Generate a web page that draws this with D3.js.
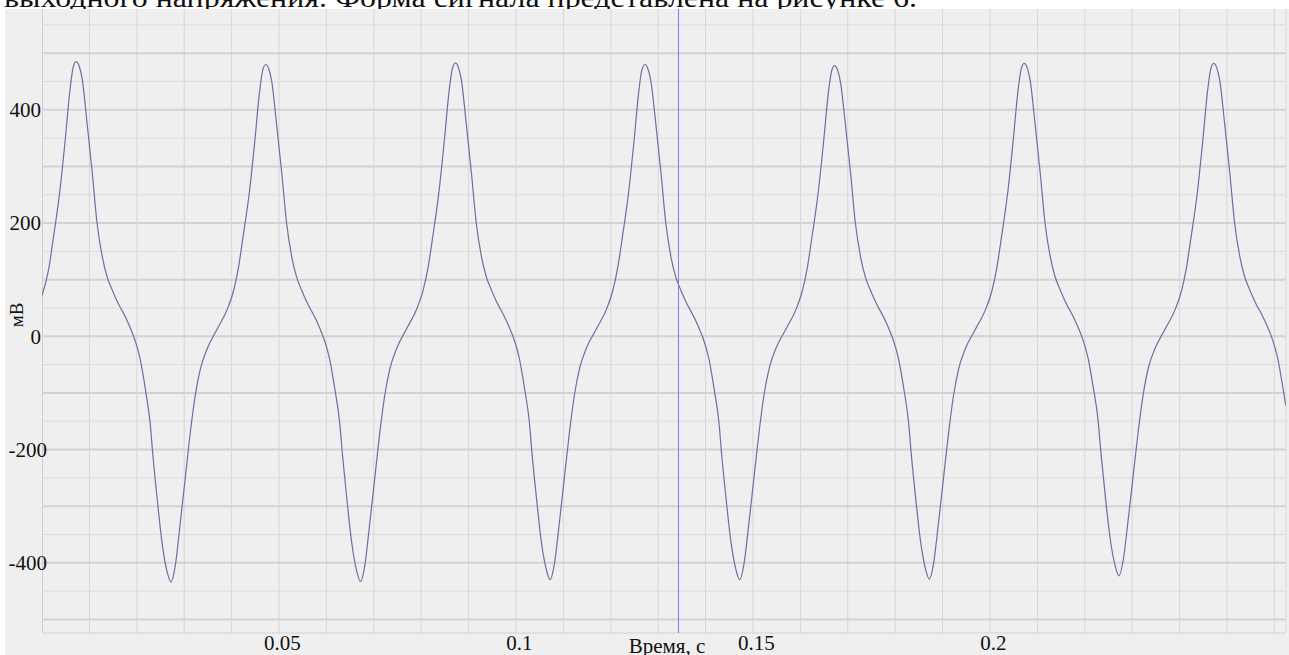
<!DOCTYPE html>
<html><head><meta charset="utf-8">
<script src="https://cdn.jsdelivr.net/npm/d3@7"></script>
<style>html,body{margin:0;padding:0;background:#fff;overflow:hidden}
svg text{font-family:"Liberation Serif","Times New Roman",serif;}</style>
</head><body>
<script>
// ---- data ----
const caption = "выходного напряжения. Форма сигнала представлена на рисунке 6.";
const xTitle = "Время, с";
const yTitle = "мВ";
const xTickValues = [0.05, 0.1, 0.15, 0.2];
const yTickValues = [-400, -200, 0, 200, 400];
const cursorTime = 0.1342; // s

// time in ms
const timeMs = [
  0, 1.4, 2.35, 3.8, 4.9, 5.9, 6.55, 7.2, 7.85, 8.47, 9.5, 10.6, 11.6, 12.7, 13.7, 14.8, 15.85, 18.0, 20.1, 20.7, 21.8, 22.8, 23.4, 24.3, 25.3, 26.4, 27.2, 28.1, 29.1, 30.2, 31.3, 32.3, 33.4, 34.8, 36.9, 39.1,
  40.4, 41.4, 42.35, 43.8, 44.9, 45.9, 46.55, 47.2, 47.85, 48.47, 49.5, 50.6, 51.6, 52.7, 53.7, 54.8, 55.85, 58.0, 60.1, 60.7, 61.8, 62.8, 63.4, 64.3, 65.3, 66.4, 67.2, 68.1, 69.1, 70.2, 71.3, 72.3, 73.4, 74.8, 76.9, 79.1,
  80.4, 81.4, 82.35, 83.8, 84.9, 85.9, 86.55, 87.2, 87.85, 88.47, 89.5, 90.6, 91.6, 92.7, 93.7, 94.8, 95.85, 98.0, 100.1, 100.7, 101.8, 102.8, 103.4, 104.3, 105.3, 106.4, 107.2, 108.1, 109.1, 110.2, 111.3, 112.3, 113.4, 114.8, 116.9, 119.1,
  120.4, 121.4, 122.35, 123.8, 124.9, 125.9, 126.55, 127.2, 127.85, 128.47, 129.5, 130.6, 131.6, 132.7, 133.7, 134.8, 135.85, 138.0, 140.1, 140.7, 141.8, 142.8, 143.4, 144.3, 145.3, 146.4, 147.2, 148.1, 149.1, 150.2, 151.3, 152.3, 153.4, 154.8, 156.9, 159.1,
  160.4, 161.4, 162.35, 163.8, 164.9, 165.9, 166.55, 167.2, 167.85, 168.47, 169.5, 170.6, 171.6, 172.7, 173.7, 174.8, 175.85, 178.0, 180.1, 180.7, 181.8, 182.8, 183.4, 184.3, 185.3, 186.4, 187.2, 188.1, 189.1, 190.2, 191.3, 192.3, 193.4, 194.8, 196.9, 199.1,
  200.4, 201.4, 202.35, 203.8, 204.9, 205.9, 206.55, 207.2, 207.85, 208.47, 209.5, 210.6, 211.6, 212.7, 213.7, 214.8, 215.85, 218.0, 220.1, 220.7, 221.8, 222.8, 223.4, 224.3, 225.3, 226.4, 227.2, 228.1, 229.1, 230.2, 231.3, 232.3, 233.4, 234.8, 236.9, 239.1,
  240.4, 241.4, 242.35, 243.8, 244.9, 245.9, 246.55, 247.2, 247.85, 248.47, 249.5, 250.6, 251.6, 252.7, 253.7, 254.8, 255.85, 258.0, 260.1, 260.7, 261.8, 262.4
];
// voltage in mV
const voltageMv = [
  72, 118, 171, 259, 347, 435, 474, 485, 477, 455, 377, 289, 201, 141, 106, 82, 62, 27, -20, -40, -93, -152, -211, -287, -363, -416, -434, -406, -335, -252, -169, -106, -58, -23, 12, 48,
  80, 119, 172, 258, 345, 432, 469, 480, 472, 450, 374, 287, 200, 140, 105, 81, 61, 26, -21, -41, -94, -152, -210, -286, -362, -415, -433, -405, -334, -251, -168, -105, -57, -22, 13, 49,
  81, 119, 171, 259, 347, 434, 472, 483, 475, 453, 376, 288, 201, 141, 106, 82, 62, 27, -19, -39, -92, -150, -209, -284, -360, -412, -430, -402, -333, -250, -168, -105, -57, -22, 12, 48,
  80, 118, 170, 257, 345, 432, 470, 480, 472, 450, 375, 288, 200, 140, 105, 81, 61, 26, -20, -40, -93, -151, -210, -285, -360, -412, -430, -402, -333, -250, -168, -105, -57, -22, 12, 48,
  80, 118, 170, 257, 344, 430, 467, 478, 470, 448, 374, 287, 200, 140, 105, 81, 61, 26, -20, -40, -92, -150, -209, -284, -359, -411, -429, -401, -332, -250, -168, -105, -57, -22, 12, 48,
  80, 119, 171, 258, 346, 433, 471, 482, 474, 452, 376, 288, 201, 141, 106, 82, 62, 27, -19, -39, -91, -148, -205, -280, -354, -405, -423, -396, -328, -247, -166, -104, -56, -22, 12, 48,
  80, 119, 171, 258, 346, 433, 471, 482, 474, 452, 376, 288, 201, 141, 106, 82, 62, 27, -19, -39, -91, -122
];

// ---- drawing ----
const W = 1289, H = 655;
const serif = '"Liberation Serif","Times New Roman",serif';
const svg = d3.select("body").append("svg").attr("width", W).attr("height", H)
  .style("display","block");

const x = d3.scaleLinear().domain([0, 0.26245]).range([42, 1286]);
const y = d3.scaleLinear().domain([-524, 578]).range([633, 9]);

// caption line (cut by the picture)
svg.append("text").attr("x", 4).attr("y", 7)
  .style("font-family", serif).style("font-size", "27px").attr("fill", "#111")
  .attr("textLength", 913).attr("lengthAdjust", "spacingAndGlyphs").text(caption);

// gray panel
svg.append("rect").attr("x", 5).attr("y", 9).attr("width", W - 5).attr("height", H - 9)
  .attr("fill", "#efefef");

const [x0, x1] = x.range();
const [yb, yt] = y.range();

// vertical grid
svg.append("g").selectAll("line").data(d3.range(0.01, 0.2605, 0.01)).join("line")
  .attr("x1", d => x(d)).attr("x2", d => x(d)).attr("y1", yt).attr("y2", yb)
  .attr("stroke", "#d6d6d6").attr("stroke-width", 1);

// horizontal grid
svg.append("g").selectAll("line").data(d3.range(-500, 551, 50)).join("line")
  .attr("x1", x0).attr("x2", x1).attr("y1", d => y(d)).attr("y2", d => y(d))
  .attr("stroke", d => (d % 100 === 0) ? "#d2d2d2" : "#dcdcdc")
  .attr("stroke-width", d => (d % 100 === 0) ? 2 : 1);

// frame
svg.append("line").attr("x1", x0 + 0.5).attr("x2", x0 + 0.5).attr("y1", yt).attr("y2", yb)
  .attr("stroke", "#cfcfcf");
svg.append("line").attr("x1", x0).attr("x2", x1).attr("y1", yb).attr("y2", yb)
  .attr("stroke", "#d2d2d2");
svg.append("line").attr("x1", x1).attr("x2", x1).attr("y1", yt).attr("y2", yb)
  .attr("stroke", "#dadada");

// clip
svg.append("clipPath").attr("id", "clip").append("rect")
  .attr("x", x0).attr("y", yt).attr("width", x1 - x0).attr("height", yb - yt);

// signal
const pts = timeMs.map((t, i) => [t / 1000, voltageMv[i]]);
svg.append("path").datum(pts).attr("clip-path", "url(#clip)")
  .attr("fill", "none").attr("stroke", "#6e6e9e").attr("stroke-width", 1.2)
  .attr("d", d3.line().x(d => x(d[0])).y(d => y(d[1])).curve(d3.curveMonotoneX));

// cursor
svg.append("line").attr("x1", Math.round(x(cursorTime)) + 0.5).attr("x2", Math.round(x(cursorTime)) + 0.5)
  .attr("y1", yt).attr("y2", yb).attr("stroke", "#7c7cf2").attr("stroke-width", 1);

// x axis labels
const xAxis = d3.axisBottom(x).tickValues(xTickValues).tickSize(0).tickPadding(0)
  .tickFormat(d => String(d));
const gx = svg.append("g").attr("transform", `translate(0,${yb})`).call(xAxis);
gx.attr("font-family", null);
gx.select(".domain").remove();
gx.selectAll("text").style("font-family", serif).style("font-size", "21px").attr("fill", "#111")
  .attr("dy", null).attr("y", 17).attr("dx", 3);

// y axis labels
const yAxis = d3.axisLeft(y).tickValues(yTickValues).tickSize(0).tickPadding(0)
  .tickFormat(d => String(d));
const gy = svg.append("g").attr("transform", `translate(41,0)`).call(yAxis);
gy.attr("font-family", null);
gy.select(".domain").remove();
gy.selectAll("text").style("font-family", serif).style("font-size", "21px").attr("fill", "#111")
  .attr("x", d => d < 0 ? 6 : 0).attr("dy", "0.32em");

// titles
svg.append("text").attr("x", 667).attr("y", 653).attr("text-anchor", "middle")
  .style("font-family", serif).style("font-size", "21px").attr("fill", "#111").text(xTitle);
svg.append("text").attr("transform", "translate(23,315) rotate(-90)").attr("text-anchor", "middle")
  .style("font-family", serif).style("font-size", "19px").attr("fill", "#111").text(yTitle);
</script>
</body></html>
